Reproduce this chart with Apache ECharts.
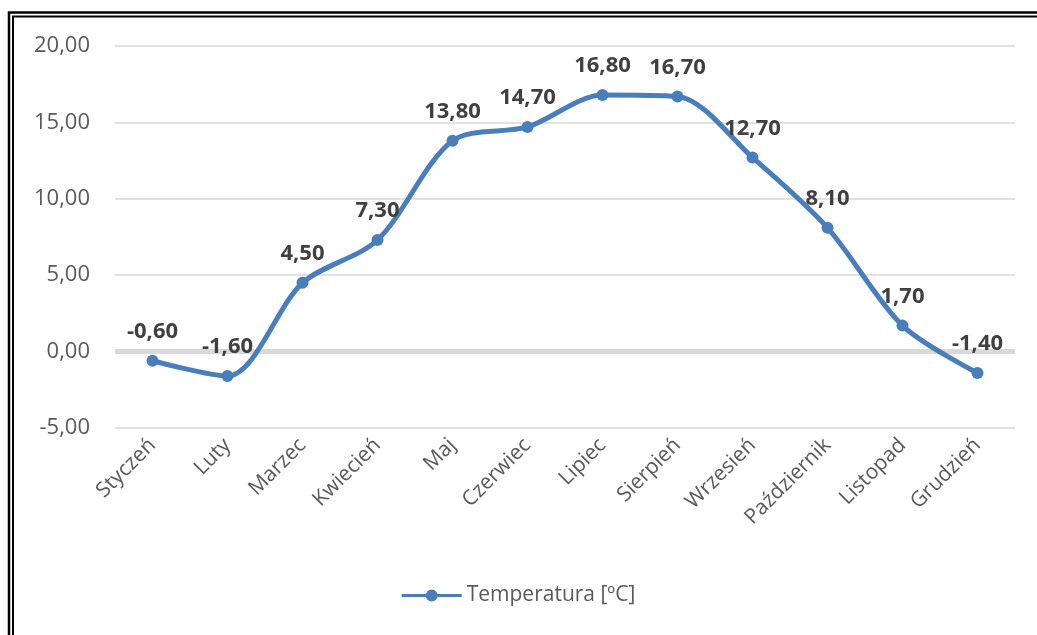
<!DOCTYPE html>
<html>
<head>
<meta charset="utf-8">
<script src="https://cdn.jsdelivr.net/npm/echarts@6/dist/echarts.min.js"></script>
<style>
html,body{margin:0;padding:0;background:#fff;}
#c{width:1037px;height:635px;}
</style>
</head>
<body>
<div id="c"></div>
<script>
const categories = ['Styczeń','Luty','Marzec','Kwiecień','Maj','Czerwiec','Lipiec','Sierpień','Wrzesień','Październik','Listopad','Grudzień'];
const temperatures = [-0.6, -1.6, 4.5, 7.3, 13.8, 14.7, 16.8, 16.7, 12.7, 8.1, 1.7, -1.4];
const seriesName = 'Temperatura [ºC]';
const yMin = -5, yMax = 20, yStep = 5;

const fmt = v => v.toFixed(2).replace('.', ',');
const FONT = '"Open Sans", "Noto Sans", sans-serif';
const blue = '#4a7ebb';

const chart = echarts.init(document.getElementById('c'), null, {renderer:'canvas'});
chart.setOption({
  animation: false,
  backgroundColor: '#fff',
  graphic: [
    {type:'rect', shape:{x:9, y:12.5, width:1100, height:700}, style:{fill:'none', stroke:'#000', lineWidth:2.5}, silent:true},
    {type:'rect', shape:{x:13, y:16.5, width:1100, height:700}, style:{fill:'none', stroke:'#000', lineWidth:2}, silent:true}
  ],
  grid: {left:115, right:22, top:46, bottom:207},
  legend: {
    bottom: 24, left: 'center',
    itemWidth: 60, itemHeight: 12,
    itemGap: 4,
    textStyle: {fontFamily: FONT, fontSize: 21, color: '#595959'},
    data: [{name: seriesName, icon: 'path://M0,4.5 H25 V7.5 H0 Z M35,4.5 H60 V7.5 H35 Z M24,6 A6,6 0 1 1 36,6 A6,6 0 1 1 24,6 Z'}]
  },
  xAxis: {
    type: 'category',
    data: categories,
    boundaryGap: true,
    axisLine: {show:false, onZero:false},
    axisTick: {show:false},
    axisLabel: {rotate:45, fontFamily: FONT, fontSize: 21, color:'#595959', margin: 14, interval: 0}
  },
  yAxis: {
    type: 'value',
    min: yMin, max: yMax, interval: yStep,
    axisLine: {show:false},
    axisTick: {show:false},
    axisLabel: {formatter: fmt, fontFamily: FONT, fontSize: 22, color:'#595959', margin: 25},
    splitLine: {lineStyle: {color:'#d9d9d9', width:1.5}}
  },
  series: [{
    name: seriesName,
    type: 'line',
    data: temperatures,
    smooth: 0.3,
    symbol: 'circle',
    symbolSize: 12,
    lineStyle: {color: blue, width: 5},
    itemStyle: {color: blue},
    label: {
      show: true, position: 'top', distance: 12,
      formatter: p => fmt(p.value),
      fontFamily: FONT, fontSize: 22, fontWeight: 'bold', color: '#404040'
    },
    markLine: {
      silent: true, symbol: 'none', label: {show:false},
      lineStyle: {color:'#d9d9d9', width:5, type:'solid'},
      data: [{yAxis: 0}],
      z: 1
    },
    z: 3
  }]
});
</script>
</body>
</html>
